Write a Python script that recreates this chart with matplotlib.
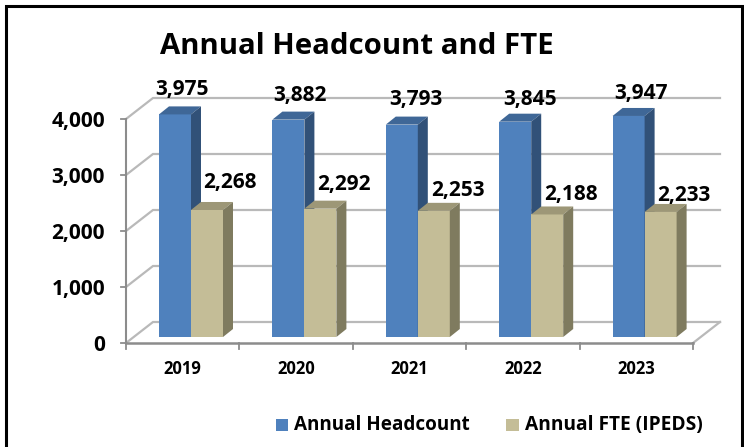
import matplotlib
matplotlib.use("Agg")
import matplotlib.pyplot as plt
from matplotlib.patches import Polygon, Rectangle

years = ["2019", "2020", "2021", "2022", "2023"]
headcount = [3975, 3882, 3793, 3845, 3947]
fte = [2268, 2292, 2253, 2188, 2233]
yticks = [0, 1000, 2000, 3000, 4000]

# label placement (pixels, relative to bar's left edge / top edge)
hc_lx = [23, 28, 30, 31, 28]
hc_ly = [27, 27, 28, 25, 25]
fte_lx = [39, 40, 40, 40, 39]
fte_ly = [30, 27, 23, 22, 19]

W, H = 744, 447
plt.rcParams['font.family'] = ['Open Sans', 'DejaVu Sans']
fig = plt.figure(figsize=(W/100, H/100), dpi=100)
fig.patch.set_facecolor('white')

def rect(l, t, r, b):
    return [l/W, 1-b/H, (r-l)/W, (b-t)/H]

fig.add_artist(Rectangle((6.5/W, -0.02), (741.5-6.5)/W, 1-5.5/H+0.02, transform=fig.transFigure,
                         fill=False, ec='black', lw=2.2))

ax = fig.add_axes(rect(126, 119, 693, 343))
ax.set_xlim(0, 5)
ax.set_ylim(0, 4000)
ax.axis('off')

pxx = 5/567
pxy = 4000/224
DX, DY = 27*pxx, 21*pxy      # wall depth
dx, dy = 10*pxx, 8*pxy       # bar depth
sy = 6*pxy                   # bar inset from floor front
grid = '#b9b9b9'
axc = '#8c8c8c'

for v in yticks:
    ax.plot([0, DX, 5+DX], [v, v+DY, v+DY], color=grid, lw=1.6, clip_on=False, zorder=1, solid_joinstyle='miter')
ax.plot([5, 5+DX], [0, DY], color=grid, lw=1.6, clip_on=False, zorder=1)

ax.plot([0, 0], [0, 4000], color=axc, lw=1.5, clip_on=False, zorder=2)
ax.plot([0, 5], [0, 0], color=axc, lw=1.8, clip_on=False, zorder=2)
for v in yticks:
    ax.plot([-5*pxx, 0], [v, v], color=axc, lw=1.3, clip_on=False, zorder=2)
    ax.text(-21*pxx, v, f"{v:,}", ha='right', va='center_baseline', fontsize=15, fontweight='bold', color='black', clip_on=False)
for i in range(6):
    ax.plot([i, i], [0, -6*pxy], color=axc, lw=1.3, clip_on=False, zorder=2)
for i, y in enumerate(years):
    ax.text(i+0.5, -24.5*pxy, y, ha='center', va='center_baseline', fontsize=12, fontweight='bold', color='black')

bw = 32*pxx
def bar3d(x, v, front, top, side, lx, ly, z):
    ax.bar(x, v, width=bw, bottom=sy, align='edge', color=front, zorder=z, clip_on=False, lw=0)
    T = v + sy
    ax.add_patch(Polygon([(x, T), (x+dx, T+dy), (x+bw+dx, T+dy), (x+bw, T)],
                         fc=top, ec='none', zorder=z, clip_on=False))
    ax.add_patch(Polygon([(x+bw, sy), (x+bw+dx, sy+dy), (x+bw+dx, T+dy), (x+bw, T)],
                         fc=side, ec='none', zorder=z, clip_on=False))
    ax.text(x+lx*pxx, T+ly*pxy, f"{v:,}", ha='center', va='center_baseline', fontsize=15, fontweight='bold',
            color='black', zorder=20, clip_on=False)

for i in range(5):
    x0 = i + 33*pxx
    bar3d(x0, headcount[i], '#4f81bd', '#3f6797', '#315178', hc_lx[i], hc_ly[i], 3+i)
    bar3d(x0+bw, fte[i], '#c4bd97', '#9d9777', '#7f7b5f', fte_lx[i], fte_ly[i], 3.5+i)

fig.text(356.5/W, 1-47/H, "Annual Headcount and FTE", ha='center', va='center', fontsize=21.2, fontweight='bold', color='black')

leg = fig.add_axes([0, 0, 1, 1], facecolor='none')
leg.set_xlim(0, W); leg.set_ylim(H, 0); leg.axis('off')
leg.add_patch(Rectangle((276, 419), 12, 12, fc='#4f81bd', ec='none'))
leg.add_patch(Rectangle((506, 419), 12.5, 12, fc='#c4bd97', ec='none'))
leg.text(294, 425, "Annual Headcount", ha='left', va='center', fontsize=13.6, fontweight='bold')
leg.text(525, 425, "Annual FTE (IPEDS)", ha='left', va='center', fontsize=13.8, fontweight='bold')

fig.savefig("out.png", dpi=100)
